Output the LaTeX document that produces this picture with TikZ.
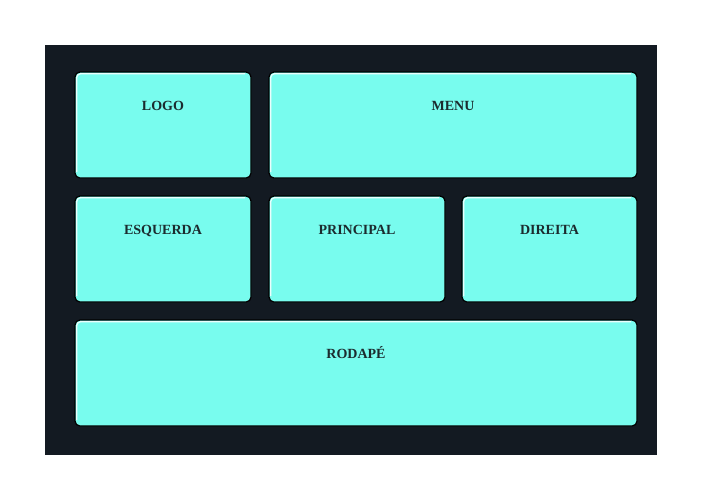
\documentclass[tikz,border=0pt]{standalone}
\usepackage{fontspec}
\setmainfont{Liberation Serif}
\usetikzlibrary{fit}
\definecolor{fundo}{HTML}{131A22}
\definecolor{ciano}{HTML}{78FCEE}
\definecolor{texto}{HTML}{1B2B2E}
\tikzset{
  bloco/.style={draw=black, line width=1.2pt, fill=ciano, rounded corners=5pt, inner sep=0pt},
  realce/.style={white, opacity=0.85, line width=1.2pt, rounded corners=4pt},
  rotulo/.style={font=\fontsize{14}{16}\selectfont\bfseries, text=texto, anchor=base}
}
\begin{document}
\begin{tikzpicture}[x=1pt,y=-1pt]
    \useasboundingbox (0,0) rectangle (702,501);
    \fill[fundo] (45,45) rectangle (657,455);
    %
    \foreach \nome/\xa/\ya/\xb/\yb/\txt in {
        logo/75/72/251/178/LOGO,
        menu/269/72/637/178/MENU,
        esquerda/75/196/251/302/ESQUERDA,
        principal/269/196/445/302/PRINCIPAL,
        direita/462/196/637/302/DIREITA,
        rodape/75/320/637/426/RODAPÉ} {
      \node[bloco, fit={(\xa,\ya) (\xb,\yb)}] (\nome) {};
      \draw[realce] ({\xa+1.7},{\yb-6}) -- ({\xa+1.7},{\ya+1.7}) -- ({\xb-6},{\ya+1.7});
      \node[rotulo] (\nome-txt) at ([yshift=-39.5pt]\nome.north) {\txt};
    }
\end{tikzpicture}
\end{document}
